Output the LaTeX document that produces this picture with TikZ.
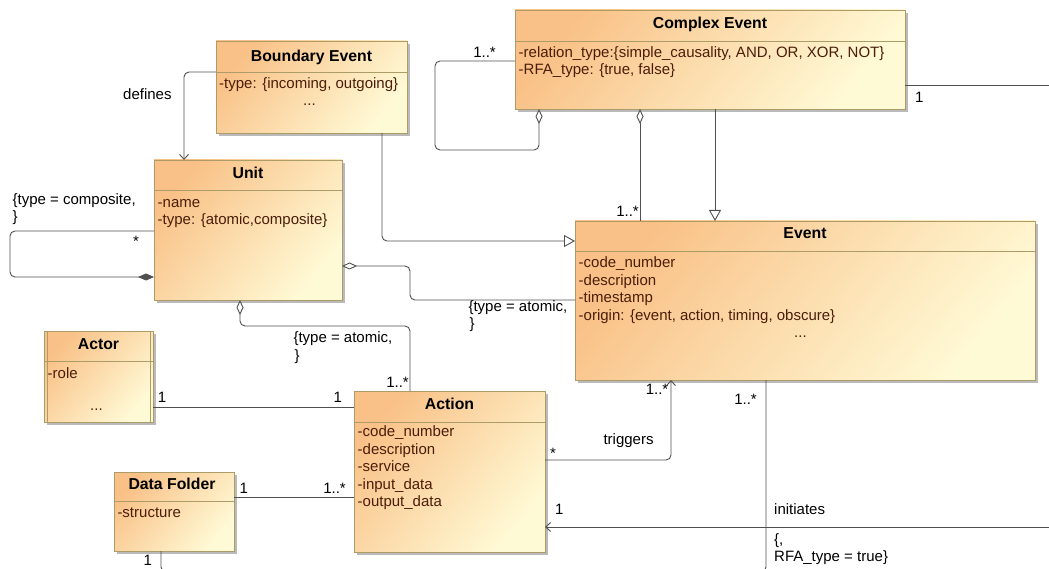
\documentclass[tikz,border=0pt]{standalone}
\usepackage{fontspec}
\setmainfont{Liberation Sans}
\usetikzlibrary{arrows.meta,calc,shadows}
\definecolor{clstop}{RGB}{249,193,135}
\definecolor{clsbot}{RGB}{255,250,214}
\definecolor{clsedge}{RGB}{172,156,104}
\definecolor{wirecol}{RGB}{80,80,80}
\definecolor{attrcol}{RGB}{75,30,10}
\begin{document}
\begin{tikzpicture}[x=1pt,y=-1pt,
  cls/.style={draw=clsedge, line width=0.9pt, top color=clstop, bottom color=clsbot,
    shading angle=50, inner sep=0pt, outer sep=0pt, anchor=north west,
    drop shadow={shadow xshift=3pt, shadow yshift=-3pt, fill=black!45, opacity=0.6}},
  sep/.style={draw=clsedge, line width=0.9pt},
  ttl/.style={font=\fontsize{15.8}{18}\selectfont\bfseries, inner sep=0pt, anchor=base},
  atr/.style={font=\fontsize{15}{18}\selectfont, text=attrcol, inner sep=0pt, anchor=base west},
  lbl/.style={font=\fontsize{15}{18}\selectfont, inner sep=0pt, anchor=base west},
  lblr/.style={font=\fontsize{15}{18}\selectfont, inner sep=0pt, anchor=base east},
  wire/.style={draw=wirecol, line width=0.9pt, rounded corners=5pt},
  nav/.style={-{Straight Barb[length=5pt,width=9pt]}},
  gen/.style={-{Triangle[open,length=11pt,width=12pt,fill=white]}},
  agg/.style={{Diamond[open,length=15pt,width=7pt,fill=white]}-},
  cmp/.style={-{Diamond[length=16pt,width=7pt]}},
]
\useasboundingbox (0,0) rectangle (1049,569);
\fill[white] (0,0) rectangle (1049,569);
\clip (0,0) rectangle (1049,569);

% ---------- classes ----------
\node[cls, minimum width=390, minimum height=99] (ce) at (515,10) {};
\draw[sep] ($(ce.north west)+(0,31)$) -- ($(ce.north east)+(0,31)$);
\node[ttl] (ce-t) at (710,29) {Complex Event};
\node[atr] (ce-a1) at (518.5,57.3) {-relation\_type:\{simple\_causality, AND, OR, XOR, NOT\}};
\node[atr] (ce-a2) at (518.5,75) {-RFA\_type: \{true, false\}};

\node[cls, minimum width=191, minimum height=92] (be) at (216,41) {};
\draw[sep] ($(be.north west)+(0,31)$) -- ($(be.north east)+(0,31)$);
\node[ttl] (be-t) at (311.5,61.2) {Boundary Event};
\node[atr] (be-a1) at (219,89) {-type: \{incoming, outgoing\}};
\node[atr] (be-a2) at (303,106) {...};

\node[cls, minimum width=188, minimum height=140] (unit) at (154,160) {};
\draw[sep] ($(unit.north west)+(0,30)$) -- ($(unit.north east)+(0,30)$);
\node[ttl] (unit-t) at (248,178.8) {Unit};
\node[atr] (unit-a1) at (157.5,207.7) {-name};
\node[atr] (unit-a2) at (157.5,225) {-type: \{atomic,composite\}};

\node[cls, minimum width=460, minimum height=159] (event) at (575,221) {};
\draw[sep] ($(event.north west)+(0,30)$) -- ($(event.north east)+(0,30)$);
\node[ttl] (event-t) at (805,238.8) {Event};
\node[atr] (event-a1) at (578.5,268) {-code\_number};
\node[atr] (event-a2) at (578.5,285.3) {-description};
\node[atr] (event-a3) at (578.5,302.6) {-timestamp};
\node[atr] (event-a4) at (578.5,320) {-origin: \{event, action, timing, obscure\}};
\node[atr] (event-a5) at (794,337) {...};

\node[cls, minimum width=109, minimum height=91] (actor) at (44,331) {};
\draw[sep] ($(actor.north west)+(0,30)$) -- ($(actor.north east)+(0,30)$);
\draw[sep] ($(actor.north west)+(3,0)$) -- ($(actor.south west)+(3,0)$);
\draw[sep] ($(actor.north east)+(-3,0)$) -- ($(actor.south east)+(-3,0)$);
\node[ttl] (actor-t) at (98.5,349.5) {Actor};
\node[atr] (actor-a1) at (47.5,378.3) {-role};
\node[atr] (actor-a2) at (90,410) {...};

\node[cls, minimum width=191, minimum height=161] (action) at (354,391) {};
\draw[sep] ($(action.north west)+(0,31)$) -- ($(action.north east)+(0,31)$);
\node[ttl] (action-t) at (449.5,409.8) {Action};
\node[atr] (action-a1) at (357.5,436.7) {-code\_number};
\node[atr] (action-a2) at (357.5,454.2) {-description};
\node[atr] (action-a3) at (357.5,471.7) {-service};
\node[atr] (action-a4) at (357.5,489.2) {-input\_data};
\node[atr] (action-a5) at (357.5,506.7) {-output\_data};

\node[cls, minimum width=120, minimum height=79] (df) at (114,472) {};
\draw[sep] ($(df.north west)+(0,29)$) -- ($(df.north east)+(0,29)$);
\node[ttl] (df-t) at (172,489.8) {Data Folder};
\node[atr] (df-a1) at (117.3,517.3) {-structure};

% ---------- free ends at the picture border ----------
\coordinate (ceout) at (1055,85);
\coordinate (iniin) at (1055,527);
\coordinate (dfout) at (185,572);
\coordinate (evout) at (745,572);

% ---------- connectors ----------
% Boundary Event defines Unit
\draw[wire, nav] ($(be.north west)+(0,31)$) -| ($(unit.north west)+(30,0)$);
\node[lbl] (l-defines) at (123,100) {defines};

% Unit composite self association
\draw[wire, cmp] ($(unit.north west)+(0,71)$) -- ++(-144,0) -- ++(0,46) -- ($(unit.north west)+(0,117)$);
\node[lbl] (l-comp1) at (12.5,205) {\{type = composite,};
\node[lbl] (l-comp2) at (12.5,222) {\}};
\node[lbl] (l-comp3) at (133,247) {*};

% Unit aggregates Event
\draw[wire, agg] ($(unit.north east)+(0,106)$) -- ++(68,0) |- ($(event.north west)+(0,79)$);
\node[lbl] (l-uev1) at (468.3,311.7) {\{type = atomic,};
\node[lbl] (l-uev2) at (469.5,328.3) {\}};

% Unit aggregates Action
\draw[wire, agg] ($(unit.south west)+(86,0)$) -- ++(0,26) -| ($(action.north west)+(56,0)$);
\node[lbl] (l-uac1) at (293.3,342.7) {\{type = atomic,};
\node[lbl] (l-uac2) at (294.5,360) {\}};
\node[lblr] (l-uac3) at (409,387.3) {1..*};

% Boundary Event generalises to Event
\draw[wire, gen] ($(be.south west)+(166,0)$) |- ($(event.north west)+(0,20)$);

% Complex Event self aggregation
\draw[wire, agg] ($(ce.south west)+(24,0)$) -- ++(0,41) -| ($(ce.north west)+(-80,51)$) -- ($(ce.north west)+(0,51)$);
\node[lblr] (l-celoop) at (496,57.3) {1..*};

% Complex Event aggregates Event
\draw[wire, agg] ($(ce.south west)+(125,0)$) -- ($(event.north west)+(65,0)$);
\node[lblr] (l-ceev) at (639,216.7) {1..*};

% Complex Event generalises to Event
\draw[wire, gen] ($(ce.south west)+(200,0)$) -- ($(event.north west)+(140,0)$);

% Complex Event outgoing association
\draw[wire] ($(ce.north east)+(0,75)$) -- (ceout);
\node[lbl] (l-ceout) at (915,102.7) {1};

% Actor -- Action
\draw[wire] ($(actor.north east)+(0,76)$) -- ($(action.north west)+(0,16)$);
\node[lbl] (l-aa1) at (157.7,402.7) {1};
\node[lbl] (l-aa2) at (333.3,402.7) {1};

% Data Folder -- Action
\draw[wire] ($(df.north east)+(0,25)$) -- ($(action.north west)+(0,106)$);
\node[lbl] (l-da1) at (239.3,493.3) {1};
\node[lblr] (l-da2) at (346,493.3) {1..*};

% Data Folder outgoing association
\draw[wire] ($(df.south west)+(47,0)$) |- (dfout);
\node[lbl] (l-dfout) at (143.3,565) {1};

% Action triggers Event
\draw[wire, nav] ($(action.north east)+(0,69)$) -| ($(event.south west)+(96,0)$);
\node[lbl] (l-trg1) at (550,458) {*};
\node[lbl] (l-trg2) at (603.3,444) {triggers};
\node[lblr] (l-trg3) at (668.5,394.3) {1..*};

% initiates Action
\draw[wire, nav] (iniin) -- ($(action.north east)+(0,136)$);
\node[lbl] (l-ini1) at (555,514.3) {1};
\node[lbl] (l-ini2) at (774,514.3) {initiates};

% Event outgoing association
\draw[wire] ($(event.south west)+(191,0)$) |- (evout);
\node[lblr] (l-evout) at (757,404.3) {1..*};
\node[lbl] (l-rfa1) at (774,544.3) {\{,};
\node[lbl] (l-rfa2) at (774,561) {RFA\_type = true\}};
\end{tikzpicture}
\end{document}
